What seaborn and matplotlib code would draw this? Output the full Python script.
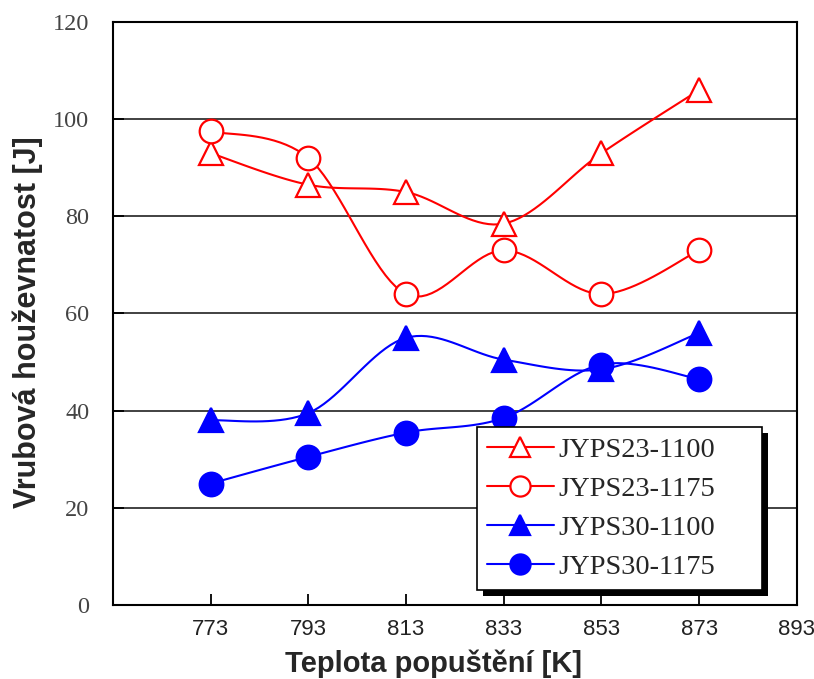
import numpy as np
import pandas as pd
import matplotlib
matplotlib.use("Agg")
import matplotlib.pyplot as plt
import seaborn as sns
from matplotlib.lines import Line2D
from matplotlib.patches import Rectangle

temps = [773, 793, 813, 833, 853, 873]
jyps23_1100 = [93, 86.5, 85, 78.5, 93, 106]
jyps23_1175 = [97.5, 92, 64, 73, 64, 73]
jyps30_1100 = [38, 39.5, 55, 50.5, 48.5, 56]
jyps30_1175 = [25, 30.5, 35.5, 38.5, 49.5, 46.5]
series_names = ["JYPS23-1100", "JYPS23-1175", "JYPS30-1100", "JYPS30-1175"]
x_ticks = [773, 793, 813, 833, 853, 873, 893]
y_ticks = [0, 20, 40, 60, 80, 100, 120]

sns.set_theme(style="white")

df = pd.DataFrame({
    "T": temps * 4,
    "v": jyps23_1100 + jyps23_1175 + jyps30_1100 + jyps30_1175,
    "s": sum([[n] * len(temps) for n in series_names], []),
})

styles = {
    "JYPS23-1100": dict(color="#ff0000", marker="^", mfc="white"),
    "JYPS23-1175": dict(color="#ff0000", marker="o", mfc="white"),
    "JYPS30-1100": dict(color="#0000ff", marker="^", mfc="#0000ff"),
    "JYPS30-1175": dict(color="#0000ff", marker="o", mfc="#0000ff"),
}
MS = 17
LW = 1.5


def smooth(x, y, n=20):
    x = np.asarray(x, float)
    y = np.asarray(y, float)
    px = np.concatenate([[x[0]], x, [x[-1]]])
    py = np.concatenate([[y[0]], y, [y[-1]]])
    xs, ys = [], []
    for i in range(1, len(px) - 2):
        p0 = np.array([px[i - 1], py[i - 1]])
        p1 = np.array([px[i], py[i]])
        p2 = np.array([px[i + 1], py[i + 1]])
        p3 = np.array([px[i + 2], py[i + 2]])
        c1 = p1 + (p2 - p0) / 6.0
        c2 = p2 - (p3 - p1) / 6.0
        t = np.linspace(0, 1, n)[:, None]
        b = ((1 - t) ** 3) * p1 + 3 * ((1 - t) ** 2) * t * c1 + 3 * (1 - t) * t ** 2 * c2 + t ** 3 * p2
        xs.extend(b[:, 0]); ys.extend(b[:, 1])
    return xs, ys


fig = plt.figure(figsize=(8.14, 6.79), dpi=100)
ax = fig.add_axes([0.1388, 0.109, 0.8402, 0.8586])

for name in series_names:
    sub = df[df["s"] == name]
    st = styles[name]
    sx, sy = smooth(sub["T"], sub["v"])
    sns.lineplot(x=sx, y=sy, ax=ax, color=st["color"], lw=LW, sort=False, estimator=None, legend=False)
    ax.plot(sub["T"], sub["v"], ls="none", marker=st["marker"], ms=MS,
            mfc=st["mfc"], mec=st["color"], mew=1.6, zorder=5)

handles = [Line2D([], [], color=styles[n]["color"], lw=LW, marker=styles[n]["marker"],
                  ms=14.5, mfc=styles[n]["mfc"], mec=styles[n]["color"], mew=1.6)
           for n in series_names]

ax.set_xlim(753, 893)
ax.set_ylim(0, 120)
ax.set_xticks(x_ticks)
ax.set_yticks(y_ticks)
ax.set_xticklabels([str(t) for t in x_ticks], fontfamily="Liberation Sans", fontsize=16, color="#222222")
ax.set_yticklabels([str(t) for t in y_ticks], fontfamily="Liberation Serif", fontsize=17.5, color="#444444")
ax.tick_params(axis="both", direction="in", length=8, width=1.3, color="black",
               bottom=True, left=True)
ax.tick_params(axis="x", pad=10)
ax.tick_params(axis="y", pad=17)
ax.grid(axis="y", color="#333333", lw=1.3)
ax.grid(axis="x", visible=False)
for sp in ax.spines.values():
    sp.set_color("black")
    sp.set_linewidth(1.5)

ax.set_xlabel("Teplota popuštění [K]", fontfamily="Liberation Sans", fontweight="bold", fontsize=21)
ax.set_ylabel("Vrubová houževnatost [J]", fontfamily="Liberation Sans", fontweight="bold", fontsize=22)
ax.xaxis.set_label_coords(0.469, -0.077)
ax.yaxis.set_label_coords(-0.102, 0.485)

leg = ax.legend(handles, series_names, loc="lower left", bbox_to_anchor=(0.532, 0.0257, 0.417, 0.2),
                mode="expand",
                prop={"family": "Liberation Serif", "size": 20.5}, frameon=True, fancybox=False,
                framealpha=1, edgecolor="black",
                handlelength=2.35, labelspacing=0.46, borderpad=0.35, handletextpad=0.15,
                borderaxespad=0)
leg.get_frame().set_linewidth(1.2)
leg.set_zorder(10)

fig.canvas.draw()
bb = leg.get_frame().get_window_extent()
off = 6
shadow = Rectangle((bb.x0 + off, bb.y0 - off), bb.width, bb.height, transform=None,
                   facecolor="black", edgecolor="none", zorder=9)
ax.add_artist(shadow)

fig.savefig("out.png", dpi=100)
